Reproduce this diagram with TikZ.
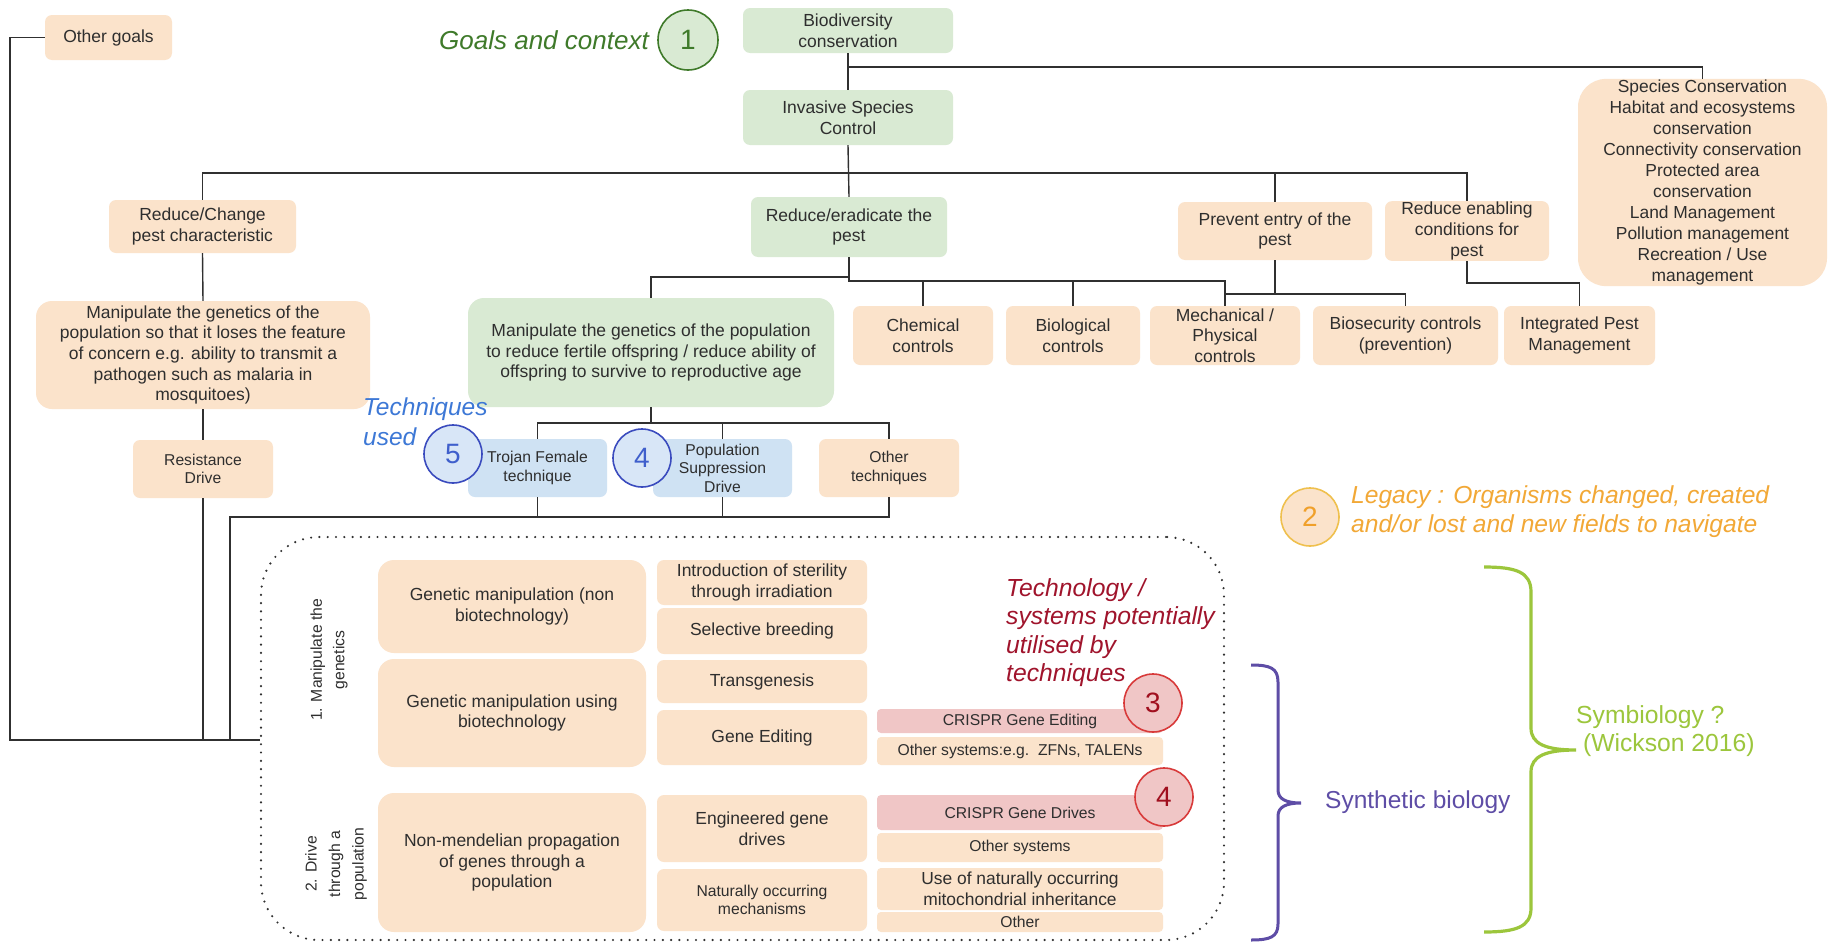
\documentclass[tikz,border=0pt]{standalone}
\usepackage{fontspec}
\setmainfont{Liberation Sans}
\definecolor{peach}{HTML}{FBE3CB}
\definecolor{lgreen}{HTML}{D9EAD3}
\definecolor{lblue}{HTML}{CFE2F3}
\definecolor{lpink}{HTML}{F0C6C6}
\definecolor{txt}{HTML}{2E2E2E}
\definecolor{lin}{HTML}{303030}
\definecolor{dgreen}{HTML}{3F7A2A}
\definecolor{cblue}{HTML}{3A4BBE}
\definecolor{cbluef}{HTML}{D8E6F7}
\definecolor{nblue}{HTML}{3F5FCC}
\definecolor{tblue}{HTML}{3D78D6}
\definecolor{gold}{HTML}{EFC04E}
\definecolor{orng}{HTML}{F0A02A}
\definecolor{orng2}{HTML}{F2A836}
\definecolor{cred}{HTML}{D83A3A}
\definecolor{dred}{HTML}{A00F1E}
\definecolor{dred2}{HTML}{A0142C}
\definecolor{purp}{HTML}{5E4DA6}
\definecolor{ygreen}{HTML}{9CC63C}
\newcommand{\fsz}[2]{\fontsize{#1}{#2}\selectfont}
\newcommand{\mybox}[7]{\node[#2, minimum width=#5pt, minimum height=#6pt] (#1) at (#3,#4) {#7};}
\tikzset{
  bx/.style={rounded corners=7pt, inner sep=1pt, align=center, text=txt, font=\fsz{17.5}{20.7}},
  pe/.style={bx, fill=peach},
  gr/.style={bx, fill=lgreen},
  bl/.style={bx, fill=lblue},
  pk/.style={bx, fill=lpink},
  sm/.style={font=\fsz{15.7}{18.5}},
  conn/.style={draw=lin, line width=1.4pt},
  num/.style={circle, minimum size=58pt, inner sep=0pt, line width=1.6pt, font=\fsz{28}{28}},
  ann/.style={font=\itshape\fsz{24.6}{28.5}, align=left, anchor=west, inner sep=0pt},
  dotbox/.style={draw=lin, line width=2.4pt, dash pattern=on 0pt off 8.3pt, line cap=round, rounded corners=58pt},
}
\begin{document}
\begin{tikzpicture}[x=1pt,y=-1pt]
\fill[white] (0,0) rectangle (1829,945);
\useasboundingbox (0,0) rectangle (1829,945);

% dotted frame
\node[dotbox, minimum width=963pt, minimum height=403pt] (dotbox) at (742.5,738.5) {};

% top rows
\mybox{othergoals}{pe}{108.5}{37.5}{127}{45}{Other goals}
\mybox{bio}{gr}{848}{30.5}{210}{45}{Biodiversity\\conservation}
\mybox{invasive}{gr}{848}{117.5}{210}{55}{Invasive Species\\Control}
\node[pe, rounded corners=28pt, minimum width=249pt, minimum height=205pt, font=\fsz{17.4}{21}] (rightbox) at (1702.5,182.5) {Species Conservation\\Habitat and ecosystems\\conservation\\Connectivity conservation\\Protected area\\conservation\\Land Management\\Pollution management\\Recreation / Use\\management};
\mybox{redchange}{pe}{202.5}{226.5}{187}{53}{Reduce/Change\\pest characteristic}
\mybox{rederad}{gr}{849}{227}{196}{60}{Reduce/eradicate the\\pest}
\mybox{prevent}{pe}{1275}{231}{194}{58}{Prevent entry of the\\pest}
\mybox{redenab}{pe}{1467}{231}{164}{58}{Reduce enabling\\conditions for\\pest}
\mybox{manipL}{pe, rounded corners=16pt}{203}{355}{334}{108}{Manipulate the genetics of the\\population so that it loses the feature\\of concern e.g. ability to transmit a\\pathogen such as malaria in\\mosquitoes)}
\mybox{manipC}{gr, rounded corners=16pt}{651}{352.5}{366}{109}{Manipulate the genetics of the population\\to reduce fertile offspring / reduce ability of\\offspring to survive to reproductive age}
\mybox{chemical}{pe}{923}{335.5}{140}{59}{Chemical\\controls}
\mybox{biological}{pe}{1073}{335.5}{134}{59}{Biological\\controls}
\mybox{mechanical}{pe}{1225}{335.5}{150}{59}{Mechanical /\\Physical\\controls}
\mybox{biosecurity}{pe}{1405.5}{335.5}{185}{59}{Biosecurity controls\\(prevention)}
\mybox{ipm}{pe}{1579.5}{335.5}{151}{59}{Integrated Pest\\Management}
\mybox{resistance}{pe, sm}{203}{469}{140}{58}{Resistance\\Drive}
\mybox{trojan}{bl, sm}{537.5}{468}{139}{58}{Trojan Female\\technique}
\mybox{popsupp}{bl, sm}{722.5}{468}{139}{58}{Population\\Suppression\\Drive}
\mybox{othertech}{pe, sm}{889}{468}{140}{58}{Other\\techniques}

% table inside dotted frame
\mybox{gmnon}{pe, rounded corners=16pt}{512}{606.5}{268}{93}{Genetic manipulation (non\\biotechnology)}
\mybox{gmbio}{pe, rounded corners=16pt}{512}{713}{268}{108}{Genetic manipulation using\\biotechnology}
\mybox{nonmend}{pe, rounded corners=16pt}{512}{862.5}{268}{139}{Non-mendelian propagation\\of genes through a\\population}
\mybox{intro}{pe}{762}{582.5}{210}{45}{Introduction of sterility\\through irradiation}
\mybox{selective}{pe}{762}{631}{210}{46}{Selective breeding}
\mybox{transgen}{pe}{762}{681.5}{210}{43}{Transgenesis}
\mybox{geneedit}{pe}{762}{737.5}{210}{55}{Gene Editing}
\mybox{engdrive}{pe}{762}{828.5}{210}{67}{Engineered gene\\drives}
\mybox{natural}{pe, sm}{762}{900}{210}{62}{Naturally occurring\\mechanisms}
\mybox{crispredit}{pk, sm, rounded corners=4pt}{1020}{721}{286}{24}{CRISPR Gene Editing}
\mybox{othersys1}{pe, sm, rounded corners=4pt}{1020}{751}{286}{28}{Other systems:e.g.\ \ ZFNs, TALENs}
\mybox{crisprdrive}{pk, sm, rounded corners=4pt}{1020}{812.5}{286}{35}{CRISPR Gene Drives}
\mybox{othersys2}{pe, sm, rounded corners=4pt}{1020}{847.5}{286}{29}{Other systems}
\mybox{usenat}{pe, rounded corners=4pt, font=\fsz{17.4}{21}}{1020}{889}{286}{42}{Use of naturally occurring\\mitochondrial inheritance}
\mybox{other}{pe, sm, rounded corners=4pt}{1020}{922}{286}{20}{Other}

\node[rotate=90, align=center, text=txt, font=\fsz{15.7}{22.5}] (lab1) at (329,660) {1. Manipulate the\\genetics};
\node[rotate=90, align=center, text=txt, font=\fsz{15.7}{23.5}] (lab2) at (336,864) {2. Drive\\through a\\population};

% connectors
\coordinate (jr) at (848,67);
\coordinate (j1) at (848,173);
\coordinate (j2) at (849,277);
\coordinate (j3) at (849,281);
\coordinate (j4) at (1275,294);
\coordinate (j5) at (1467,283);
\coordinate (j6) at (651,423);
\coordinate (j7) at (230,517);
\coordinate (jl) at (10,740);

\draw[conn] (bio.south) -- (invasive.north);
\draw[conn] (jr) -| (rightbox.north);
\draw[conn] (invasive.south) -- (rederad.north);
\draw[conn] (redchange.north) |- (j1) -| (redenab.north);
\draw[conn] (prevent.north) -- (prevent.north |- j1);
\draw[conn] (redchange.south) -- (manipL.north);
\draw[conn] (manipL.south) -- (resistance.north);
\draw[conn] (rederad.south) -- (j2) -| (manipC.north);
\draw[conn] (j2) -- (j3) -| (mechanical.north);
\draw[conn] (chemical.north) -- (chemical.north |- j3);
\draw[conn] (biological.north) -- (biological.north |- j3);
\draw[conn] (prevent.south) -- (j4);
\draw[conn] (mechanical.north) |- (j4) -| (biosecurity.north);
\draw[conn] (redenab.south) |- (ipm.north |- j5) -- (ipm.north);
\draw[conn] (manipC.south) -- (j6);
\draw[conn] (trojan.north) |- (j6) -| (othertech.north);
\draw[conn] (popsupp.north) -- (popsupp.north |- j6);
\draw[conn] (othertech.south) |- (j7) -- (j7 |- jl);
\draw[conn] (trojan.south) -- (trojan.south |- j7);
\draw[conn] (popsupp.south) -- (popsupp.south |- j7);
\draw[conn] (resistance.south) -- (resistance.south |- jl);
\draw[conn] (othergoals.west) -| (jl) -- (jl -| dotbox.west);

% numbered circles
\node[num, draw=dgreen, fill=lgreen, text=dgreen, minimum size=60pt] (c1) at (688,40) {1};
\node[num, draw=cblue, fill=cbluef, text=nblue] (c5) at (453,454) {5};
\node[num, draw=cblue, fill=cbluef, text=nblue] (c4b) at (642,458) {4};
\node[num, draw=gold, fill=peach, text=orng] (c2) at (1310,517) {2};
\node[num, draw=cred, fill=lpink, text=dred] (c3) at (1153,703) {3};
\node[num, draw=cred, fill=lpink, text=dred] (c4r) at (1164,797) {4};

% annotations
\node[inner sep=0pt, text=dgreen, font=\itshape\fsz{26}{26}] (goals) at (544,40) {Goals and context};
\node[ann, text=tblue, font=\itshape\fsz{24.5}{30}] (tech) at (363,422) {Techniques\\used};
\node[ann, text=orng2] (legacy) at (1351,511.5) {Legacy : Organisms changed, created\\and/or lost and new fields to navigate};
\node[ann, text=dred2, font=\itshape\fsz{24.7}{28.3}] (techno) at (1006,632.5) {Technology /\\systems potentially\\utilised by\\techniques};
\node[inner sep=0pt, anchor=west, text=purp, font=\fsz{24.5}{28}] (synbio) at (1325,802) {Synthetic biology};
\node[inner sep=0pt, anchor=west, align=left, text=ygreen, font=\fsz{24.7}{28}] (symb) at (1576,731) {Symbiology ?\\\ (Wickson 2016)};

% braces
\draw[purp, line width=3pt] (1251,665) .. controls (1270,665) and (1278,668) .. (1278,682) -- (1278,790) .. controls (1278,799) and (1286,803) .. (1301,803) .. controls (1286,803) and (1278,807) .. (1278,816) -- (1278,924) .. controls (1278,937) and (1270,940) .. (1251,940);
\draw[ygreen, line width=3.2pt] (1484,567) .. controls (1516,567) and (1531,572) .. (1531,592) -- (1531,728) .. controls (1531,744) and (1546,750) .. (1576,750) .. controls (1546,750) and (1531,756) .. (1531,772) -- (1531,908) .. controls (1531,927) and (1516,932) .. (1484,932);
\end{tikzpicture}
\end{document}
